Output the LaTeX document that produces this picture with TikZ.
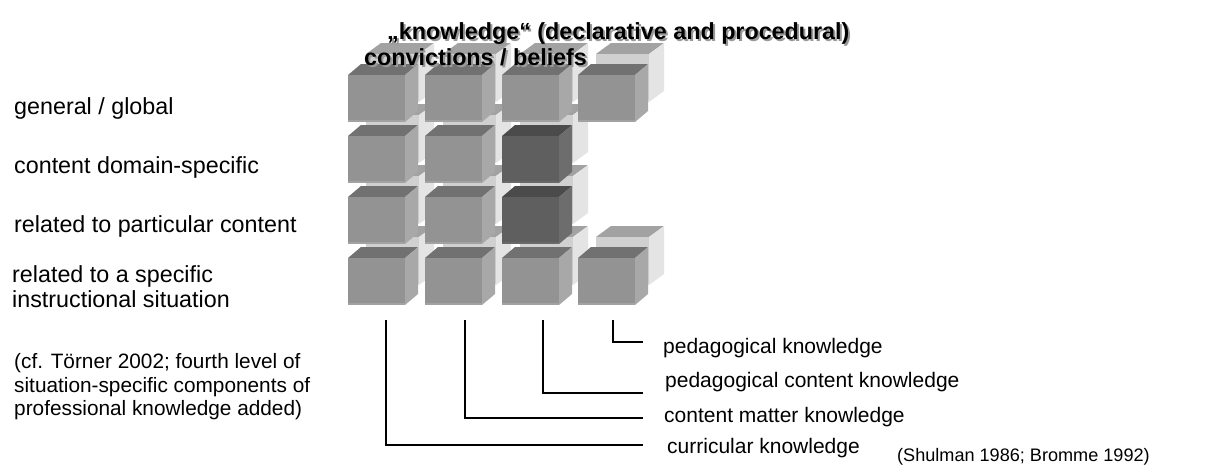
\documentclass[tikz,border=0pt]{standalone}
\usepackage{fontspec}
\setmainfont{Liberation Sans}
\definecolor{fface}{HTML}{939393}
\definecolor{ftop}{HTML}{717171}
\definecolor{fside}{HTML}{A8A8A8}
\definecolor{dface}{HTML}{5F5F5F}
\definecolor{dtop}{HTML}{4B4B4B}
\definecolor{dside}{HTML}{6D6D6D}
\definecolor{bface}{HTML}{D0D0D0}
\definecolor{btop}{HTML}{A2A2A2}
\definecolor{bside}{HTML}{E4E4E4}
\newcommand\drawcube[9]{%
  \fill[#4] (#1,#2) -- ++(#8,-#9) -- ++(#6,0) -- ++(-#8,#9) -- cycle;
  \fill[#5] (#1+#6,#2) -- ++(#8,-#9) -- ++(0,#7) -- ++(-#8,#9) -- cycle;
  \fill[#3] (#1,#2) rectangle ++(#6,#7);
  \fill[#5!70!#3] (#1,#2+#7-1.6) rectangle ++(#6,1.6);
}
\newcommand\frontcube[2]{\drawcube{#1}{#2}{fface}{ftop}{fside}{57}{47}{13}{11}}
\newcommand\darkcube[2]{\drawcube{#1}{#2}{dface}{dtop}{dside}{57}{47}{13}{11}}
\newcommand\backcube[2]{\drawcube{#1}{#2}{bface}{btop}{bside}{53}{48}{15}{11}}
\begin{document}
\begin{tikzpicture}[x=1pt,y=-1pt,
  lbl/.style={anchor=base west, inner sep=0pt, font=\fontsize{23.3}{25}\selectfont},
  rlbl/.style={anchor=base west, inner sep=0pt, font=\fontsize{21}{24}\selectfont},
  cite/.style={anchor=base west, inner sep=0pt, font=\fontsize{20.8}{24}\selectfont},
  src/.style={anchor=base west, inner sep=0pt, font=\fontsize{18.1}{21}\selectfont},
  ttl/.style={anchor=base west, inner sep=0pt, font=\bfseries\fontsize{23.3}{27}\selectfont},
  ttlshadow/.style={ttl, text=black!40},
  conn/.style={line width=1.4pt, black},
]
\useasboundingbox[fill=white] (0,0) rectangle (1215,464);

% back layer
\foreach \bx in {366,443,520,596} {\backcube{\bx}{54}}
\foreach \bx in {366,443,520} {\backcube{\bx}{115}}
\foreach \bx in {366,443,520} {\backcube{\bx}{176}}
\foreach \bx in {366,443,520,596} {\backcube{\bx}{237}}

% front layer
\foreach \fx in {348,425,502,578} {\frontcube{\fx}{75}}
\frontcube{348}{136}\frontcube{425}{136}\darkcube{502}{136}
\frontcube{348}{197}\frontcube{425}{197}\darkcube{502}{197}
\foreach \fx in {348,425,502,578} {\frontcube{\fx}{258}}

% title
\node[ttlshadow] (t1s) at (389,41) {„knowledge“ (declarative and procedural)};
\node[ttl] (t1) at (387,39) {„knowledge“ (declarative and procedural)};
\node[ttlshadow] (t2s) at (366,67) {convictions / beliefs};
\node[ttl] (t2) at (364,65) {convictions / beliefs};

% left labels
\node[lbl] (l1) at (14,114) {general / global};
\node[lbl] (l2) at (14,173) {content domain-specific};
\node[lbl] (l3) at (14,232) {related to particular content};
\node[lbl] (l4a) at (12,282) {related to a specific};
\node[lbl] (l4b) at (12,307) {instructional situation};

\node[cite] (c1) at (14,368) {(cf. Törner 2002; fourth level of};
\node[cite] (c2) at (14,392) {situation-specific components of};
\node[cite] (c3) at (14,415) {professional knowledge added)};

% right labels
\node[rlbl] (r4) at (663,353) {pedagogical knowledge};
\node[rlbl] (r3) at (665,387) {pedagogical content knowledge};
\node[rlbl] (r2) at (664,422) {content matter knowledge};
\node[rlbl] (r1) at (667,453) {curricular knowledge};
\node[src] (s) at (897,461) {(Shulman 1986; Bromme 1992)};

% connectors
\coordinate (v1) at (386,320); \coordinate (e1) at (643,445);
\coordinate (v2) at (465,320); \coordinate (e2) at (643,418);
\coordinate (v3) at (543,320); \coordinate (e3) at (643,393);
\coordinate (v4) at (613,320); \coordinate (e4) at (643,342);
\draw[conn] (v1) |- (e1);
\draw[conn] (v2) |- (e2);
\draw[conn] (v3) |- (e3);
\draw[conn] (v4) |- (e4);
\end{tikzpicture}
\end{document}
